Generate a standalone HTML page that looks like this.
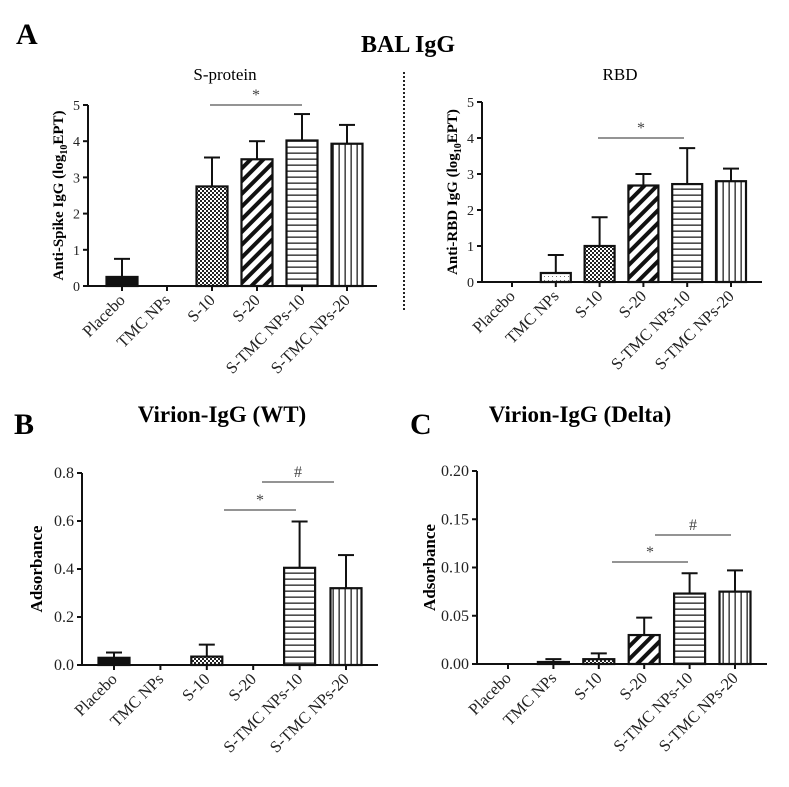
<!DOCTYPE html>
<html><head><meta charset="utf-8"><style>
body{margin:0;background:#fff}
svg{font-family:"Liberation Serif",serif}
</style></head><body>
<svg id="fig" width="789" height="782" viewBox="0 0 789 782">
<defs>
<pattern id="p-check" width="4" height="4" patternUnits="userSpaceOnUse"><rect width="4" height="4" fill="#fff"/><rect width="2" height="2" fill="#222"/><rect x="2" y="2" width="2" height="2" fill="#222"/></pattern>
<pattern id="p-dot" width="4" height="4" patternUnits="userSpaceOnUse"><rect width="4" height="4" fill="#fff"/><rect width="1" height="1" fill="#777"/></pattern>
<pattern id="p-diag" width="9" height="9" patternUnits="userSpaceOnUse" patternTransform="rotate(45)"><rect width="9" height="9" fill="#fff"/><rect width="4" height="9" fill="#111"/></pattern>
<pattern id="p-horz" width="6" height="6" patternUnits="userSpaceOnUse"><rect width="6" height="6" fill="#fff"/><rect y="2.5" width="6" height="1.3" fill="#222"/></pattern>
<pattern id="p-vert" width="6" height="6" patternUnits="userSpaceOnUse"><rect width="6" height="6" fill="#fff"/><rect x="2.5" width="1.3" height="6" fill="#222"/></pattern>
</defs>
<text x="16" y="44" font-size="30" font-weight="bold">A</text>
<text x="408" y="52" font-size="24" font-weight="bold" text-anchor="middle">BAL IgG</text>
<text x="225" y="80" font-size="17" text-anchor="middle">S-protein</text>
<text x="620" y="80" font-size="17" text-anchor="middle">RBD</text>
<line x1="404" y1="72" x2="404" y2="312" stroke="#222" stroke-width="2" stroke-dasharray="2,2"/>
<text x="14" y="434" font-size="30" font-weight="bold">B</text>
<text x="222" y="422" font-size="23" font-weight="bold" text-anchor="middle">Virion-IgG (WT)</text>
<text x="410" y="434" font-size="30" font-weight="bold">C</text>
<text x="580" y="422" font-size="23" font-weight="bold" text-anchor="middle">Virion-IgG (Delta)</text>
</svg>
<script>
const categories = ["Placebo","TMC NPs","S-10","S-20","S-TMC NPs-10","S-TMC NPs-20"];
const spikeValues = [0.25,0,2.75,3.5,4.02,3.93];
const spikeErrors = [0.75,0,3.55,4.0,4.75,4.45];
const spikeTicks = ["0","1","2","3","4","5"];
const rbdValues = [0,0.25,1.0,2.68,2.72,2.8];
const rbdErrors = [0,0.75,1.8,3.0,3.72,3.15];
const rbdTicks = ["0","1","2","3","4","5"];
const wtValues = [0.03,0,0.035,0,0.405,0.32];
const wtErrors = [0.052,0,0.085,0,0.598,0.458];
const wtTicks = ["0.0","0.2","0.4","0.6","0.8"];
const deltaValues = [0,0.002,0.005,0.03,0.073,0.075];
const deltaErrors = [0,0.005,0.011,0.048,0.094,0.097];
const deltaTicks = ["0.00","0.05","0.10","0.15","0.20"];
const fillsA = ["#111","url(#p-dot)","url(#p-check)","url(#p-diag)","url(#p-horz)","url(#p-vert)"];

const NS="http://www.w3.org/2000/svg";
const svg=document.getElementById('fig');
function mk(tag,attrs,parent){const e=document.createElementNS(NS,tag);for(const k in attrs)e.setAttribute(k,attrs[k]);(parent||svg).appendChild(e);return e;}

function panel(cfg){
  const g=mk('g',{});
  
  
  const tmax=parseFloat(cfg.ticks[cfg.ticks.length-1]);
  const y=v=>cfg.y0-(v/tmax)*(cfg.y0-cfg.yTop);
  const x=i=>cfg.x0c+i*cfg.step;
  cfg.values.forEach((v,i)=>{
    if(cfg.errors[i]>v){
      const el=mk('line',{x1:x(i),x2:x(i),y1:y(v),y2:y(cfg.errors[i]),stroke:'#111','stroke-width':2},g);
      
      
      const cap=mk('line',{x1:x(i)-8,x2:x(i)+8,y1:y(cfg.errors[i]),y2:y(cfg.errors[i]),stroke:'#111','stroke-width':2},g);
      
      
    }
    if(v>0){
      const h=Math.max(y(0)-y(v),2);
      const r=mk('rect',{x:x(i)-cfg.bw/2,y:y(0)-h,width:cfg.bw,height:h,fill:cfg.fills[i],stroke:'#111','stroke-width':2.2},g);
      
      
    }
  });
  const ya=mk('line',{x1:cfg.xa,x2:cfg.xa,y1:cfg.yTop,y2:cfg.y0,stroke:'#111','stroke-width':2},g);
  
  
  const xa=mk('line',{x1:cfg.xa,x2:cfg.xEnd,y1:cfg.y0,y2:cfg.y0,stroke:'#111','stroke-width':2},g);
  
  
  cfg.ticks.forEach(t=>{
    const yy=y(parseFloat(t));
    mk('line',{x1:cfg.xa-5,x2:cfg.xa,y1:yy,y2:yy,stroke:'#111','stroke-width':2},g);
    const tx=mk('text',{x:cfg.xa-8,y:yy+5,'font-size':cfg.tfs,'text-anchor':'end',fill:'#222'},g);
    tx.textContent=t;
    
    
  });
  categories.forEach((c,i)=>{
    mk('line',{x1:x(i),x2:x(i),y1:cfg.y0,y2:cfg.y0+5,stroke:'#111','stroke-width':2},g);
    const tx=mk('text',{x:x(i)+4,y:cfg.y0+15,'font-size':16.5,'text-anchor':'end',fill:'#222',transform:`rotate(-45 ${x(i)+4} ${cfg.y0+15})`},g);
    tx.textContent=c;
    
    
  });
  const yt=mk('text',{x:0,y:0,'font-size':cfg.yfs,'font-weight':'bold','text-anchor':'middle',transform:`translate(${cfg.ytx} ${(cfg.y0+cfg.yTop)/2}) rotate(-90)`},g);
  yt.innerHTML=cfg.ytitle;
  
  
  cfg.sig.forEach(s=>{
    const l=mk('line',{x1:s[0],x2:s[1],y1:s[2],y2:s[2],stroke:'#555','stroke-width':1.2},g);
    
    
    const t=mk('text',{x:(s[0]+s[1])/2,y:s[2]-5,'font-size':16,'text-anchor':'middle',fill:'#444'},g);
    t.textContent=s[3];
    
    
  });
}
panel({name:'spike-chart',values:spikeValues,errors:spikeErrors,ticks:spikeTicks,fills:fillsA,xa:88,xEnd:377,y0:286,yTop:105,x0c:122,step:45,bw:31,tfs:14,yfs:15,ytx:63,
  ytitle:'Anti-Spike IgG (log<tspan font-size="10" dy="4">10</tspan><tspan dy="-4">EPT)</tspan>',sig:[[210,302,105,'*']]});
panel({name:'rbd-chart',values:rbdValues,errors:rbdErrors,ticks:rbdTicks,fills:fillsA,xa:482,xEnd:762,y0:282,yTop:102,x0c:512,step:43.8,bw:30,tfs:14,yfs:15,ytx:457,
  ytitle:'Anti-RBD IgG (log<tspan font-size="10" dy="4">10</tspan><tspan dy="-4">EPT)</tspan>',sig:[[598,684,138,'*']]});
panel({name:'virion-wt-chart',values:wtValues,errors:wtErrors,ticks:wtTicks,fills:fillsA,xa:82,xEnd:378,y0:665,yTop:473,x0c:114,step:46.4,bw:31,tfs:16,yfs:17,ytx:42,
  ytitle:'Adsorbance',sig:[[224,296,510,'*'],[262,334,482,'#']]});
panel({name:'virion-delta-chart',values:deltaValues,errors:deltaErrors,ticks:deltaTicks,fills:fillsA,xa:477,xEnd:767,y0:664,yTop:471,x0c:508,step:45.4,bw:31,tfs:16,yfs:17,ytx:435,
  ytitle:'Adsorbance',sig:[[612,688,562,'*'],[655,731,535,'#']]});
</script>
</body></html>
